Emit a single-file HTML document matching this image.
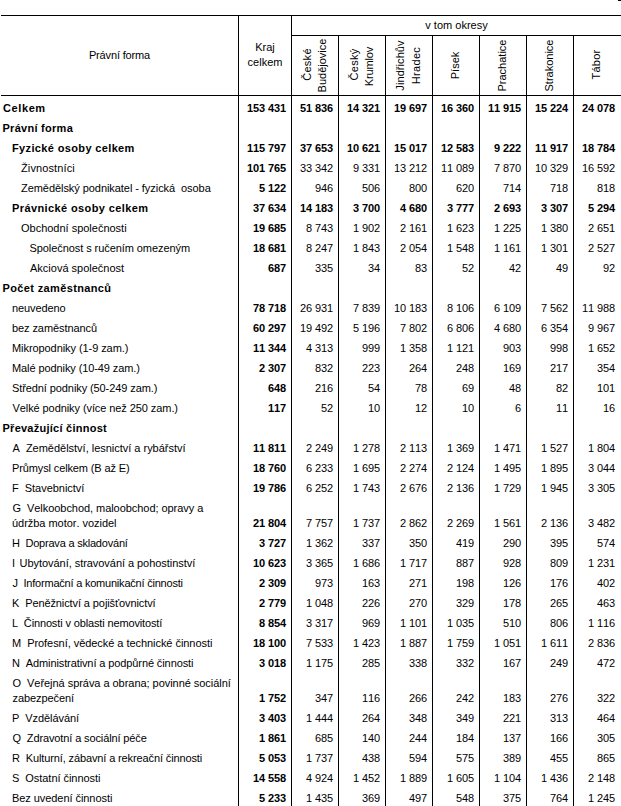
<!DOCTYPE html>
<html lang="cs"><head><meta charset="utf-8"><title>Tabulka</title>
<style>
html,body{margin:0;padding:0;background:#fff;}
body{width:621px;height:806px;position:relative;overflow:hidden;font-family:"Liberation Sans",Arial,sans-serif;font-size:11px;color:#000;font-kerning:none;}
.h,.v{position:absolute;background:#000;}
.h{height:1px;}
.v{width:1px;}
.t{position:absolute;white-space:nowrap;line-height:15px;height:15px;}
.b{font-weight:bold;}
.n{position:absolute;text-align:right;white-space:nowrap;line-height:15px;height:15px;letter-spacing:-0.11px;}
.c{position:absolute;text-align:center;white-space:nowrap;line-height:15px;}
.r{position:absolute;width:60px;height:15px;text-align:center;line-height:15px;transform:rotate(-90deg);transform-origin:50% 50%;white-space:nowrap;}
</style></head><body>

<div class="h" style="left:618px;top:0;width:3px"></div>
<div class="h" style="left:1px;top:15px;width:620px"></div>
<div class="h" style="left:291px;top:35px;width:330px"></div>
<div class="h" style="left:1px;top:95px;width:620px"></div>
<div class="v" style="left:238px;top:15px;height:791px"></div>
<div class="v" style="left:291px;top:15px;height:791px"></div>
<div class="v" style="left:338px;top:35px;height:771px"></div>
<div class="v" style="left:385px;top:35px;height:771px"></div>
<div class="v" style="left:432px;top:35px;height:771px"></div>
<div class="v" style="left:479px;top:35px;height:771px"></div>
<div class="v" style="left:526px;top:35px;height:771px"></div>
<div class="v" style="left:573px;top:35px;height:771px"></div>
<div class="c" style="left:1px;width:237px;top:48px;letter-spacing:-0.15px">Právní forma</div>
<div class="c" style="left:239px;width:52px;top:40px">Kraj<br>celkem</div>
<div class="c" style="left:292px;width:329px;top:18px">v tom okresy</div>
<div class="r" style="left:276.5px;top:57.0px;letter-spacing:0.27px">České</div>
<div class="r" style="left:291.5px;top:58.3px">Budějovice</div>
<div class="r" style="left:323.5px;top:57.3px;letter-spacing:0.30px">Český</div>
<div class="r" style="left:338.5px;top:58.7px;letter-spacing:-0.12px">Krumlov</div>
<div class="r" style="left:370.0px;top:58.3px;letter-spacing:0.07px">Jindřichův</div>
<div class="r" style="left:385.5px;top:57.8px;letter-spacing:0.30px">Hradec</div>
<div class="r" style="left:425.0px;top:58.0px">Písek</div>
<div class="r" style="left:472.0px;top:58.0px">Prachatice</div>
<div class="r" style="left:519.0px;top:58.0px">Strakonice</div>
<div class="r" style="left:566.0px;top:57.2px;letter-spacing:0.20px">Tábor</div>
<div class="t b" style="left:3.00px;top:101px;letter-spacing:0.600px">Celkem</div>
<div class="n b" style="left:239px;width:47px;top:101px">153 431</div>
<div class="n b" style="left:292px;width:41px;top:101px">51 836</div>
<div class="n b" style="left:339px;width:41px;top:101px">14 321</div>
<div class="n b" style="left:386px;width:41px;top:101px">19 697</div>
<div class="n b" style="left:433px;width:41px;top:101px">16 360</div>
<div class="n b" style="left:480px;width:41px;top:101px">11 915</div>
<div class="n b" style="left:527px;width:41px;top:101px">15 224</div>
<div class="n b" style="left:574px;width:41px;top:101px">24 078</div>
<div class="t b" style="left:2.50px;top:121px;letter-spacing:0.273px">Právní forma</div>
<div class="t b" style="left:12.00px;top:141px;letter-spacing:0.359px">Fyzické osoby celkem</div>
<div class="n b" style="left:239px;width:47px;top:141px">115 797</div>
<div class="n b" style="left:292px;width:41px;top:141px">37 653</div>
<div class="n b" style="left:339px;width:41px;top:141px">10 621</div>
<div class="n b" style="left:386px;width:41px;top:141px">15 017</div>
<div class="n b" style="left:433px;width:41px;top:141px">12 583</div>
<div class="n b" style="left:480px;width:41px;top:141px">9 222</div>
<div class="n b" style="left:527px;width:41px;top:141px">11 917</div>
<div class="n b" style="left:574px;width:41px;top:141px">18 784</div>
<div class="t" style="left:21.00px;top:161px;letter-spacing:0.120px">Živnostníci</div>
<div class="n b" style="left:239px;width:47px;top:161px">101 765</div>
<div class="n" style="left:292px;width:41px;top:161px">33 342</div>
<div class="n" style="left:339px;width:41px;top:161px">9 331</div>
<div class="n" style="left:386px;width:41px;top:161px">13 212</div>
<div class="n" style="left:433px;width:41px;top:161px">11 089</div>
<div class="n" style="left:480px;width:41px;top:161px">7 870</div>
<div class="n" style="left:527px;width:41px;top:161px">10 329</div>
<div class="n" style="left:574px;width:41px;top:161px">16 592</div>
<div class="t" style="left:21.00px;top:181px;letter-spacing:-0.059px">Zemědělský podnikatel - fyzická&nbsp; osoba</div>
<div class="n b" style="left:239px;width:47px;top:181px">5 122</div>
<div class="n" style="left:292px;width:41px;top:181px">946</div>
<div class="n" style="left:339px;width:41px;top:181px">506</div>
<div class="n" style="left:386px;width:41px;top:181px">800</div>
<div class="n" style="left:433px;width:41px;top:181px">620</div>
<div class="n" style="left:480px;width:41px;top:181px">714</div>
<div class="n" style="left:527px;width:41px;top:181px">718</div>
<div class="n" style="left:574px;width:41px;top:181px">818</div>
<div class="t b" style="left:12.00px;top:201px;letter-spacing:0.390px">Právnické osoby celkem</div>
<div class="n b" style="left:239px;width:47px;top:201px">37 634</div>
<div class="n b" style="left:292px;width:41px;top:201px">14 183</div>
<div class="n b" style="left:339px;width:41px;top:201px">3 700</div>
<div class="n b" style="left:386px;width:41px;top:201px">4 680</div>
<div class="n b" style="left:433px;width:41px;top:201px">3 777</div>
<div class="n b" style="left:480px;width:41px;top:201px">2 693</div>
<div class="n b" style="left:527px;width:41px;top:201px">3 307</div>
<div class="n b" style="left:574px;width:41px;top:201px">5 294</div>
<div class="t" style="left:21.00px;top:221px;letter-spacing:-0.011px">Obchodní společnosti</div>
<div class="n b" style="left:239px;width:47px;top:221px">19 685</div>
<div class="n" style="left:292px;width:41px;top:221px">8 743</div>
<div class="n" style="left:339px;width:41px;top:221px">1 902</div>
<div class="n" style="left:386px;width:41px;top:221px">2 161</div>
<div class="n" style="left:433px;width:41px;top:221px">1 623</div>
<div class="n" style="left:480px;width:41px;top:221px">1 225</div>
<div class="n" style="left:527px;width:41px;top:221px">1 380</div>
<div class="n" style="left:574px;width:41px;top:221px">2 651</div>
<div class="t" style="left:29.50px;top:241px;letter-spacing:-0.072px">Společnost s ručením omezeným</div>
<div class="n b" style="left:239px;width:47px;top:241px">18 681</div>
<div class="n" style="left:292px;width:41px;top:241px">8 247</div>
<div class="n" style="left:339px;width:41px;top:241px">1 843</div>
<div class="n" style="left:386px;width:41px;top:241px">2 054</div>
<div class="n" style="left:433px;width:41px;top:241px">1 548</div>
<div class="n" style="left:480px;width:41px;top:241px">1 161</div>
<div class="n" style="left:527px;width:41px;top:241px">1 301</div>
<div class="n" style="left:574px;width:41px;top:241px">2 527</div>
<div class="t" style="left:30.00px;top:261px">Akciová společnost</div>
<div class="n b" style="left:239px;width:47px;top:261px">687</div>
<div class="n" style="left:292px;width:41px;top:261px">335</div>
<div class="n" style="left:339px;width:41px;top:261px">34</div>
<div class="n" style="left:386px;width:41px;top:261px">83</div>
<div class="n" style="left:433px;width:41px;top:261px">52</div>
<div class="n" style="left:480px;width:41px;top:261px">42</div>
<div class="n" style="left:527px;width:41px;top:261px">49</div>
<div class="n" style="left:574px;width:41px;top:261px">92</div>
<div class="t b" style="left:2.50px;top:281px;letter-spacing:0.364px">Počet zaměstnanců</div>
<div class="t" style="left:12.00px;top:301px;letter-spacing:-0.100px">neuvedeno</div>
<div class="n b" style="left:239px;width:47px;top:301px">78 718</div>
<div class="n" style="left:292px;width:41px;top:301px">26 931</div>
<div class="n" style="left:339px;width:41px;top:301px">7 839</div>
<div class="n" style="left:386px;width:41px;top:301px">10 183</div>
<div class="n" style="left:433px;width:41px;top:301px">8 106</div>
<div class="n" style="left:480px;width:41px;top:301px">6 109</div>
<div class="n" style="left:527px;width:41px;top:301px">7 562</div>
<div class="n" style="left:574px;width:41px;top:301px">11 988</div>
<div class="t" style="left:12.00px;top:321px;letter-spacing:-0.085px">bez zaměstnanců</div>
<div class="n b" style="left:239px;width:47px;top:321px">60 297</div>
<div class="n" style="left:292px;width:41px;top:321px">19 492</div>
<div class="n" style="left:339px;width:41px;top:321px">5 196</div>
<div class="n" style="left:386px;width:41px;top:321px">7 802</div>
<div class="n" style="left:433px;width:41px;top:321px">6 806</div>
<div class="n" style="left:480px;width:41px;top:321px">4 680</div>
<div class="n" style="left:527px;width:41px;top:321px">6 354</div>
<div class="n" style="left:574px;width:41px;top:321px">9 967</div>
<div class="t" style="left:12.00px;top:341px;letter-spacing:-0.073px">Mikropodniky (1-9 zam.)</div>
<div class="n b" style="left:239px;width:47px;top:341px">11 344</div>
<div class="n" style="left:292px;width:41px;top:341px">4 313</div>
<div class="n" style="left:339px;width:41px;top:341px">999</div>
<div class="n" style="left:386px;width:41px;top:341px">1 358</div>
<div class="n" style="left:433px;width:41px;top:341px">1 121</div>
<div class="n" style="left:480px;width:41px;top:341px">903</div>
<div class="n" style="left:527px;width:41px;top:341px">998</div>
<div class="n" style="left:574px;width:41px;top:341px">1 652</div>
<div class="t" style="left:12.00px;top:361px;letter-spacing:-0.093px">Malé podniky (10-49 zam.)</div>
<div class="n b" style="left:239px;width:47px;top:361px">2 307</div>
<div class="n" style="left:292px;width:41px;top:361px">832</div>
<div class="n" style="left:339px;width:41px;top:361px">223</div>
<div class="n" style="left:386px;width:41px;top:361px">264</div>
<div class="n" style="left:433px;width:41px;top:361px">248</div>
<div class="n" style="left:480px;width:41px;top:361px">169</div>
<div class="n" style="left:527px;width:41px;top:361px">217</div>
<div class="n" style="left:574px;width:41px;top:361px">354</div>
<div class="t" style="left:12.00px;top:381px;letter-spacing:-0.093px">Střední podniky (50-249 zam.)</div>
<div class="n b" style="left:239px;width:47px;top:381px">648</div>
<div class="n" style="left:292px;width:41px;top:381px">216</div>
<div class="n" style="left:339px;width:41px;top:381px">54</div>
<div class="n" style="left:386px;width:41px;top:381px">78</div>
<div class="n" style="left:433px;width:41px;top:381px">69</div>
<div class="n" style="left:480px;width:41px;top:381px">48</div>
<div class="n" style="left:527px;width:41px;top:381px">82</div>
<div class="n" style="left:574px;width:41px;top:381px">101</div>
<div class="t" style="left:12.50px;top:401px;letter-spacing:-0.082px">Velké podniky (více než 250 zam.)</div>
<div class="n b" style="left:239px;width:47px;top:401px">117</div>
<div class="n" style="left:292px;width:41px;top:401px">52</div>
<div class="n" style="left:339px;width:41px;top:401px">10</div>
<div class="n" style="left:386px;width:41px;top:401px">12</div>
<div class="n" style="left:433px;width:41px;top:401px">10</div>
<div class="n" style="left:480px;width:41px;top:401px">6</div>
<div class="n" style="left:527px;width:41px;top:401px">11</div>
<div class="n" style="left:574px;width:41px;top:401px">16</div>
<div class="t b" style="left:2.50px;top:421px;letter-spacing:0.255px">Převažující činnost</div>
<div class="t" style="left:12.50px;top:441px;letter-spacing:-0.016px">A&nbsp; Zemědělství, lesnictví a rybářství</div>
<div class="n b" style="left:239px;width:47px;top:441px">11 811</div>
<div class="n" style="left:292px;width:41px;top:441px">2 249</div>
<div class="n" style="left:339px;width:41px;top:441px">1 278</div>
<div class="n" style="left:386px;width:41px;top:441px">2 113</div>
<div class="n" style="left:433px;width:41px;top:441px">1 369</div>
<div class="n" style="left:480px;width:41px;top:441px">1 471</div>
<div class="n" style="left:527px;width:41px;top:441px">1 527</div>
<div class="n" style="left:574px;width:41px;top:441px">1 804</div>
<div class="t" style="left:12.00px;top:461px;letter-spacing:-0.127px">Průmysl celkem (B až E)</div>
<div class="n b" style="left:239px;width:47px;top:461px">18 760</div>
<div class="n" style="left:292px;width:41px;top:461px">6 233</div>
<div class="n" style="left:339px;width:41px;top:461px">1 695</div>
<div class="n" style="left:386px;width:41px;top:461px">2 274</div>
<div class="n" style="left:433px;width:41px;top:461px">2 124</div>
<div class="n" style="left:480px;width:41px;top:461px">1 495</div>
<div class="n" style="left:527px;width:41px;top:461px">1 895</div>
<div class="n" style="left:574px;width:41px;top:461px">3 044</div>
<div class="t" style="left:12.00px;top:481px;letter-spacing:-0.028px">F&nbsp; Stavebnictví</div>
<div class="n b" style="left:239px;width:47px;top:481px">19 786</div>
<div class="n" style="left:292px;width:41px;top:481px">6 252</div>
<div class="n" style="left:339px;width:41px;top:481px">1 743</div>
<div class="n" style="left:386px;width:41px;top:481px">2 676</div>
<div class="n" style="left:433px;width:41px;top:481px">2 136</div>
<div class="n" style="left:480px;width:41px;top:481px">1 729</div>
<div class="n" style="left:527px;width:41px;top:481px">1 945</div>
<div class="n" style="left:574px;width:41px;top:481px">3 305</div>
<div class="t" style="left:12.50px;top:501px;letter-spacing:-0.052px">G&nbsp; Velkoobchod, maloobchod; opravy a</div>
<div class="t" style="left:12.00px;top:516px;letter-spacing:-0.030px">údržba motor. vozidel</div>
<div class="n b" style="left:239px;width:47px;top:516px">21 804</div>
<div class="n" style="left:292px;width:41px;top:516px">7 757</div>
<div class="n" style="left:339px;width:41px;top:516px">1 737</div>
<div class="n" style="left:386px;width:41px;top:516px">2 862</div>
<div class="n" style="left:433px;width:41px;top:516px">2 269</div>
<div class="n" style="left:480px;width:41px;top:516px">1 561</div>
<div class="n" style="left:527px;width:41px;top:516px">2 136</div>
<div class="n" style="left:574px;width:41px;top:516px">3 482</div>
<div class="t" style="left:12.00px;top:536px;letter-spacing:-0.209px">H&nbsp; Doprava a skladování</div>
<div class="n b" style="left:239px;width:47px;top:536px">3 727</div>
<div class="n" style="left:292px;width:41px;top:536px">1 362</div>
<div class="n" style="left:339px;width:41px;top:536px">337</div>
<div class="n" style="left:386px;width:41px;top:536px">350</div>
<div class="n" style="left:433px;width:41px;top:536px">419</div>
<div class="n" style="left:480px;width:41px;top:536px">290</div>
<div class="n" style="left:527px;width:41px;top:536px">395</div>
<div class="n" style="left:574px;width:41px;top:536px">574</div>
<div class="t" style="left:12.00px;top:556px;letter-spacing:-0.049px">I&nbsp;<span style="margin-left:1.6px">Ubytování, stravování a pohostinství</span></div>
<div class="n b" style="left:239px;width:47px;top:556px">10 623</div>
<div class="n" style="left:292px;width:41px;top:556px">3 365</div>
<div class="n" style="left:339px;width:41px;top:556px">1 686</div>
<div class="n" style="left:386px;width:41px;top:556px">1 717</div>
<div class="n" style="left:433px;width:41px;top:556px">887</div>
<div class="n" style="left:480px;width:41px;top:556px">928</div>
<div class="n" style="left:527px;width:41px;top:556px">809</div>
<div class="n" style="left:574px;width:41px;top:556px">1 231</div>
<div class="t" style="left:12.50px;top:576px;letter-spacing:-0.212px">J&nbsp; Informační a komunikační činnosti</div>
<div class="n b" style="left:239px;width:47px;top:576px">2 309</div>
<div class="n" style="left:292px;width:41px;top:576px">973</div>
<div class="n" style="left:339px;width:41px;top:576px">163</div>
<div class="n" style="left:386px;width:41px;top:576px">271</div>
<div class="n" style="left:433px;width:41px;top:576px">198</div>
<div class="n" style="left:480px;width:41px;top:576px">126</div>
<div class="n" style="left:527px;width:41px;top:576px">176</div>
<div class="n" style="left:574px;width:41px;top:576px">402</div>
<div class="t" style="left:12.00px;top:596px;letter-spacing:-0.100px">K&nbsp; Peněžnictví a pojišťovnictví</div>
<div class="n b" style="left:239px;width:47px;top:596px">2 779</div>
<div class="n" style="left:292px;width:41px;top:596px">1 048</div>
<div class="n" style="left:339px;width:41px;top:596px">226</div>
<div class="n" style="left:386px;width:41px;top:596px">270</div>
<div class="n" style="left:433px;width:41px;top:596px">329</div>
<div class="n" style="left:480px;width:41px;top:596px">178</div>
<div class="n" style="left:527px;width:41px;top:596px">265</div>
<div class="n" style="left:574px;width:41px;top:596px">463</div>
<div class="t" style="left:12.00px;top:616px;letter-spacing:-0.137px">L&nbsp; Činnosti v oblasti nemovitostí</div>
<div class="n b" style="left:239px;width:47px;top:616px">8 854</div>
<div class="n" style="left:292px;width:41px;top:616px">3 317</div>
<div class="n" style="left:339px;width:41px;top:616px">969</div>
<div class="n" style="left:386px;width:41px;top:616px">1 101</div>
<div class="n" style="left:433px;width:41px;top:616px">1 035</div>
<div class="n" style="left:480px;width:41px;top:616px">510</div>
<div class="n" style="left:527px;width:41px;top:616px">806</div>
<div class="n" style="left:574px;width:41px;top:616px">1 116</div>
<div class="t" style="left:12.00px;top:636px;letter-spacing:-0.050px">M&nbsp; Profesní, vědecké a technické činnosti</div>
<div class="n b" style="left:239px;width:47px;top:636px">18 100</div>
<div class="n" style="left:292px;width:41px;top:636px">7 533</div>
<div class="n" style="left:339px;width:41px;top:636px">1 423</div>
<div class="n" style="left:386px;width:41px;top:636px">1 887</div>
<div class="n" style="left:433px;width:41px;top:636px">1 759</div>
<div class="n" style="left:480px;width:41px;top:636px">1 051</div>
<div class="n" style="left:527px;width:41px;top:636px">1 611</div>
<div class="n" style="left:574px;width:41px;top:636px">2 836</div>
<div class="t" style="left:12.00px;top:656px;letter-spacing:-0.103px">N&nbsp; Administrativní a podpůrné činnosti</div>
<div class="n b" style="left:239px;width:47px;top:656px">3 018</div>
<div class="n" style="left:292px;width:41px;top:656px">1 175</div>
<div class="n" style="left:339px;width:41px;top:656px">285</div>
<div class="n" style="left:386px;width:41px;top:656px">338</div>
<div class="n" style="left:433px;width:41px;top:656px">332</div>
<div class="n" style="left:480px;width:41px;top:656px">167</div>
<div class="n" style="left:527px;width:41px;top:656px">249</div>
<div class="n" style="left:574px;width:41px;top:656px">472</div>
<div class="t" style="left:12.50px;top:676px;letter-spacing:-0.042px">O&nbsp; Veřejná správa a obrana; povinné sociální</div>
<div class="t" style="left:12.50px;top:691px;letter-spacing:-0.080px">zabezpečení</div>
<div class="n b" style="left:239px;width:47px;top:691px">1 752</div>
<div class="n" style="left:292px;width:41px;top:691px">347</div>
<div class="n" style="left:339px;width:41px;top:691px">116</div>
<div class="n" style="left:386px;width:41px;top:691px">266</div>
<div class="n" style="left:433px;width:41px;top:691px">242</div>
<div class="n" style="left:480px;width:41px;top:691px">183</div>
<div class="n" style="left:527px;width:41px;top:691px">276</div>
<div class="n" style="left:574px;width:41px;top:691px">322</div>
<div class="t" style="left:12.00px;top:711px;letter-spacing:-0.066px">P&nbsp; Vzdělávání</div>
<div class="n b" style="left:239px;width:47px;top:711px">3 403</div>
<div class="n" style="left:292px;width:41px;top:711px">1 444</div>
<div class="n" style="left:339px;width:41px;top:711px">264</div>
<div class="n" style="left:386px;width:41px;top:711px">348</div>
<div class="n" style="left:433px;width:41px;top:711px">349</div>
<div class="n" style="left:480px;width:41px;top:711px">221</div>
<div class="n" style="left:527px;width:41px;top:711px">313</div>
<div class="n" style="left:574px;width:41px;top:711px">464</div>
<div class="t" style="left:12.50px;top:731px;letter-spacing:-0.120px">Q&nbsp; Zdravotní a sociální péče</div>
<div class="n b" style="left:239px;width:47px;top:731px">1 861</div>
<div class="n" style="left:292px;width:41px;top:731px">685</div>
<div class="n" style="left:339px;width:41px;top:731px">140</div>
<div class="n" style="left:386px;width:41px;top:731px">244</div>
<div class="n" style="left:433px;width:41px;top:731px">184</div>
<div class="n" style="left:480px;width:41px;top:731px">137</div>
<div class="n" style="left:527px;width:41px;top:731px">166</div>
<div class="n" style="left:574px;width:41px;top:731px">305</div>
<div class="t" style="left:12.00px;top:751px;letter-spacing:-0.120px">R&nbsp; Kulturní, zábavní a rekreační činnosti</div>
<div class="n b" style="left:239px;width:47px;top:751px">5 053</div>
<div class="n" style="left:292px;width:41px;top:751px">1 737</div>
<div class="n" style="left:339px;width:41px;top:751px">438</div>
<div class="n" style="left:386px;width:41px;top:751px">594</div>
<div class="n" style="left:433px;width:41px;top:751px">575</div>
<div class="n" style="left:480px;width:41px;top:751px">389</div>
<div class="n" style="left:527px;width:41px;top:751px">455</div>
<div class="n" style="left:574px;width:41px;top:751px">865</div>
<div class="t" style="left:12.00px;top:771px;letter-spacing:-0.045px">S&nbsp; Ostatní činnosti</div>
<div class="n b" style="left:239px;width:47px;top:771px">14 558</div>
<div class="n" style="left:292px;width:41px;top:771px">4 924</div>
<div class="n" style="left:339px;width:41px;top:771px">1 452</div>
<div class="n" style="left:386px;width:41px;top:771px">1 889</div>
<div class="n" style="left:433px;width:41px;top:771px">1 605</div>
<div class="n" style="left:480px;width:41px;top:771px">1 104</div>
<div class="n" style="left:527px;width:41px;top:771px">1 436</div>
<div class="n" style="left:574px;width:41px;top:771px">2 148</div>
<div class="t" style="left:12.00px;top:791px;letter-spacing:-0.062px">Bez uvedení činnosti</div>
<div class="n b" style="left:239px;width:47px;top:791px">5 233</div>
<div class="n" style="left:292px;width:41px;top:791px">1 435</div>
<div class="n" style="left:339px;width:41px;top:791px">369</div>
<div class="n" style="left:386px;width:41px;top:791px">497</div>
<div class="n" style="left:433px;width:41px;top:791px">548</div>
<div class="n" style="left:480px;width:41px;top:791px">375</div>
<div class="n" style="left:527px;width:41px;top:791px">764</div>
<div class="n" style="left:574px;width:41px;top:791px">1 245</div>
</body></html>
